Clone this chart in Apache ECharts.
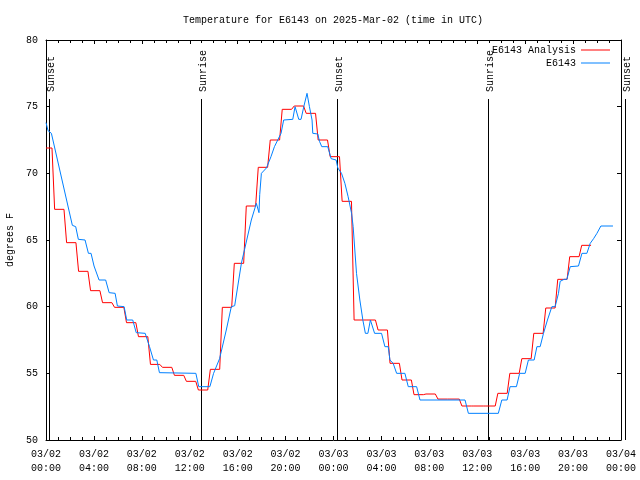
<!DOCTYPE html>
<html>
<head>
<meta charset="utf-8">
<script src="https://cdn.jsdelivr.net/npm/echarts@6/dist/echarts.min.js"></script>
<style>
html,body{margin:0;padding:0;background:#fff;}
#chart{width:640px;height:480px;}
</style>
</head>
<body>
<div id="chart"></div>
<script>
// X tick labels (every 4 hours from 03/02 00:00 UTC)
const tickLabels = [
  '03/02\n00:00','03/02\n04:00','03/02\n08:00','03/02\n12:00',
  '03/02\n16:00','03/02\n20:00','03/03\n00:00','03/03\n04:00',
  '03/03\n08:00','03/03\n12:00','03/03\n16:00','03/03\n20:00','03/04\n00:00'
];

// Analysis: one value per hour (hour 0 .. 45)
const analysisTemps = [
  71.9, 67.3, 64.8, 62.65, 61.2, 60.3, 59.95, 58.8, 57.75, 55.67,
  55.45, 54.85, 54.4, 53.75, 55.3, 59.95, 63.25, 67.55, 70.45, 72.5,
  74.8, 75.05, 74.5, 72.5, 71.25, 67.9, 59.0, 59.0, 58.25, 55.75,
  54.5, 53.4, 53.45, 53.07, 53.07, 52.55, 52.55, 52.55, 53.5, 55.0,
  56.1, 58.0, 59.9, 62.05, 63.75, 64.6
];

// Observations (hours since 03/02 00:00 UTC, degrees F)
const obsHours = [
  0, 0.17, 0.45, 2.2, 2.48, 2.7, 3.26, 3.54, 3.76, 4.01,
  4.15, 4.43, 4.98, 5.27, 5.77, 5.96, 6.52, 6.74, 7.24, 7.53,
  8.28, 8.64, 8.97, 9.25, 9.47, 12.51, 12.75, 13.68, 13.99, 14.49,
  15.05, 15.47, 15.75, 16.31, 17.14, 17.56, 17.78, 17.84, 17.98, 18.4,
  18.78, 19.07, 19.62, 19.84, 20.6, 20.79, 21.1, 21.29, 21.52, 21.79,
  21.99, 22.21, 22.27, 22.69, 22.83, 23.02, 23.52, 23.8, 24.22, 24.36,
  24.67, 24.95, 25.22, 25.51, 25.64, 25.78, 25.92, 26.2, 26.45, 26.66,
  26.87, 27.08, 27.24, 27.43, 28.01, 28.29, 28.57, 28.71, 28.98, 29.27,
  29.96, 30.24, 30.94, 31.22, 34.98, 35.26, 37.76, 38.05, 38.49, 38.74,
  39.27, 39.54, 40.0, 40.27, 40.75, 40.98, 41.25, 41.53, 41.86, 42.23,
  42.5, 42.78, 42.92, 43.25, 43.48, 43.76, 44.45, 44.74, 45.15, 45.43,
  45.71, 45.99, 46.32, 47.33
];
const obsTemps = [
  73.8, 73.2, 73.0, 66.1, 66.0, 65.05, 65.0, 64.0, 64.0, 63.05,
  63.0, 62.0, 62.0, 61.05, 61.0, 60.05, 60.0, 59.0, 59.0, 58.05,
  58.0, 57.0, 56.0, 56.0, 55.05, 55.0, 54.0, 54.0, 55.0, 56.1,
  58.25, 60.0, 60.07, 63.25, 66.5, 67.75, 67.05, 68.4, 70.0, 70.4,
  71.25, 72.0, 73.0, 74.0, 74.05, 75.0, 74.05, 74.05, 75.0, 76.0,
  75.0, 74.0, 73.0, 72.95, 72.4, 72.0, 72.0, 71.1, 71.0, 70.4,
  70.0, 69.25, 68.25, 67.0, 66.0, 64.25, 62.5, 60.5, 59.0, 58.0,
  58.0, 59.0, 59.0, 58.0, 58.0, 57.0, 57.0, 56.0, 55.75, 55.0,
  55.0, 54.0, 54.0, 53.0, 53.0, 52.0, 52.0, 53.0, 53.0, 54.0,
  54.0, 55.0, 55.0, 56.0, 56.0, 57.0, 57.0, 58.0, 59.0, 60.0,
  60.0, 61.0, 61.9, 62.05, 62.05, 63.0, 63.05, 64.0, 64.0, 64.75,
  65.1, 65.5, 66.05, 66.05
];

// Sun events (hours since 03/02 00:00 UTC)
const sunTimes = [0.28, 12.93, 24.3, 36.93, 48.36];
const sunLabels = ['Sunset', 'Sunrise', 'Sunset', 'Sunrise', 'Sunset'];

const FONT = 'Liberation Mono';

// Build hourly analysis as held segments
const analysisData = [];
analysisTemps.forEach((v, h) => {
  analysisData.push([Math.max(0, h - 0.28), v]);
  analysisData.push([h + 0.5, v]);
});
const obsData = obsHours.map((h, i) => [h, obsTemps[i]]);

const chart = echarts.init(document.getElementById('chart'), null, {renderer: 'canvas'});

const baseX = {
  type: 'value', min: 0, max: 48, interval: 4,
  axisLine: {show: true, onZero: false, lineStyle: {color: '#000', width: 1}},
  axisTick: {show: true, inside: true, length: 4, lineStyle: {color: '#000', width: 1}},
  minorTick: {show: true, splitNumber: 4, length: 3, lineStyle: {color: '#000', width: 1}},
  splitLine: {show: false}
};
const baseY = {
  type: 'value', min: 50, max: 80, interval: 5,
  axisLine: {show: true, onZero: false, lineStyle: {color: '#000', width: 1}},
  axisTick: {show: true, inside: true, length: 4, lineStyle: {color: '#000', width: 1}},
  splitLine: {show: false}
};

const legendBase = {
  orient: 'horizontal', align: 'right', icon: 'rect',
  itemWidth: 29, itemHeight: 1, itemGap: 0, padding: 0,
  selectedMode: false, right: 30,
  textStyle: {fontFamily: FONT, fontSize: 10, color: '#000', lineHeight: 12}
};

chart.setOption({
  animation: false,
  backgroundColor: '#fff',
  title: {
    text: 'Temperature for E6143 on 2025-Mar-02 (time in UTC)',
    left: 333, top: 14, textAlign: 'center', padding: 0,
    textStyle: {fontFamily: FONT, fontSize: 10, fontWeight: 'normal', color: '#000', lineHeight: 13}
  },
  legend: [
    Object.assign({}, legendBase, {data: ['E6143 Analysis'], top: 44}),
    Object.assign({}, legendBase, {data: ['E6143'], top: 57})
  ],
  grid: {left: 46, top: 40, width: 575, height: 400, containLabel: false, outerBoundsMode: 'none'},
  xAxis: [
    Object.assign({}, baseX, {
      position: 'bottom',
      axisLabel: {
        show: true, color: '#000', fontFamily: FONT, fontSize: 10, lineHeight: 14, margin: 7,
        formatter: v => tickLabels[Math.round(v / 4)]
      }
    }),
    Object.assign({}, baseX, {position: 'top', axisLabel: {show: false}})
  ],
  yAxis: [
    Object.assign({}, baseY, {
      position: 'left',
      name: 'degrees F', nameLocation: 'middle', nameGap: 31,
      nameTextStyle: {fontFamily: FONT, fontSize: 10, color: '#000'},
      axisLabel: {show: true, color: '#000', fontFamily: FONT, fontSize: 10, margin: 8}
    }),
    Object.assign({}, baseY, {position: 'right', axisLabel: {show: false}})
  ],
  series: [
    {
      name: 'E6143 Analysis', type: 'line', data: analysisData,
      showSymbol: false, symbol: 'none',
      lineStyle: {color: '#ff0000', width: 1}, itemStyle: {color: '#ff0000'},
      z: 3
    },
    {
      name: 'E6143', type: 'line', data: obsData,
      showSymbol: false, symbol: 'none',
      lineStyle: {color: '#0080ff', width: 1}, itemStyle: {color: '#0080ff'},
      z: 4
    },
    {
      name: 'sun', type: 'custom', clip: false, silent: true, z: 2,
      data: sunTimes.map(t => [t, 50]),
      encode: {x: 0, y: 1},
      renderItem: function (params, api) {
        const bottom = api.coord([api.value(0), 50]);
        const top = api.coord([api.value(0), 80]);
        const x = Math.round(bottom[0]) + 0.5;
        return {
          type: 'group',
          children: [
            {type: 'line', shape: {x1: x, y1: top[1] + 59, x2: x, y2: bottom[1]},
             style: {stroke: '#000', lineWidth: 1}},
            {type: 'text', x: x + 1.5, y: top[1] + 52, rotation: Math.PI / 2,
             style: {text: sunLabels[params.dataIndex], fill: '#000',
                     font: '10px "' + FONT + '"', align: 'left', verticalAlign: 'middle'}}
          ]
        };
      }
    }
  ]
});
</script>
</body>
</html>
